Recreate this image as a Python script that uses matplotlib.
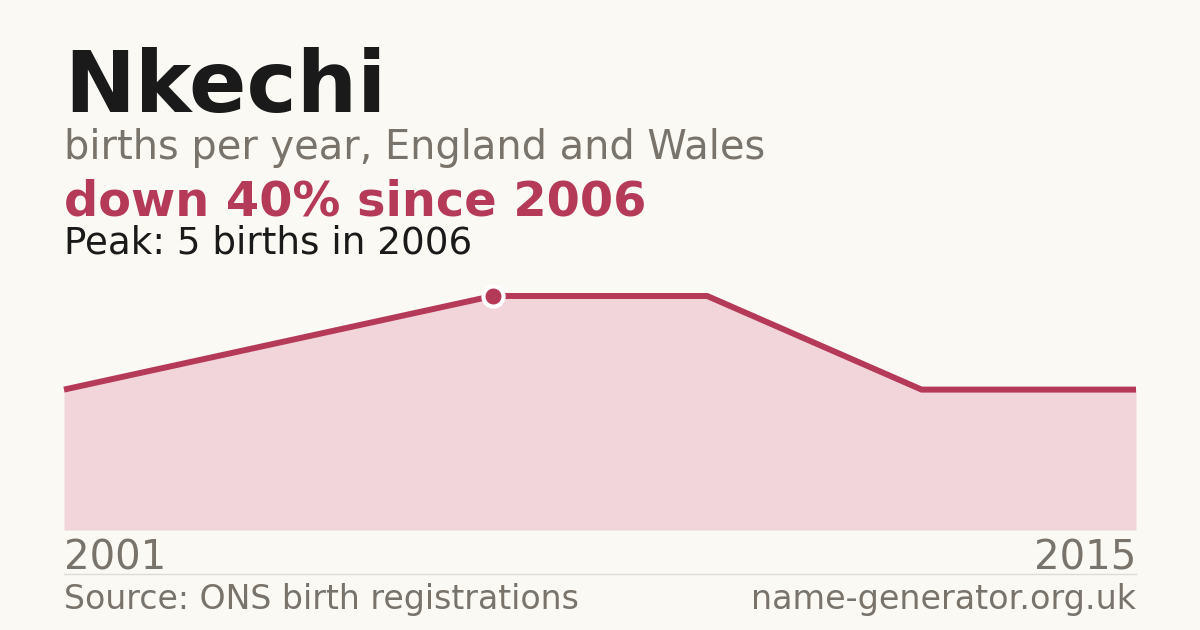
import matplotlib
matplotlib.use("Agg")
import matplotlib.pyplot as plt
import numpy as np

# data
years = [2001, 2003, 2006, 2009, 2012, 2015]
births = [3, 4, 5, 5, 3, 3]
title = "Nkechi"
subtitle = "births per year, England and Wales"
headline = "down 40% since 2006"
peak_text = "Peak: 5 births in 2006"
source = "Source: ONS birth registrations"
site = "name-generator.org.uk"
peak_idx = 2

BG = "#faf9f4"
RED = "#b53a57"
FILL = "#f2d5da"
GRAY = "#78736b"
DARK = "#1a1a1a"

plt.rcParams['font.family'] = ['DejaVu Sans']
W, H = 1200, 630
fig = plt.figure(figsize=(W / 100, H / 100), dpi=100, facecolor=BG)

def fy(py):
    return 1 - py / H

def fx(px):
    return px / W

fig.text(fx(64), fy(112), title, fontsize=61, fontweight='bold', color=DARK, va='baseline', ha='left')
fig.text(fx(64), fy(159), subtitle, fontsize=28.7, color=GRAY, va='baseline', ha='left')
fig.text(fx(64), fy(215), headline, fontsize=34.5, fontweight='bold', color=RED, va='baseline', ha='left')
fig.text(fx(64), fy(253), peak_text, fontsize=26.8, color=DARK, va='baseline', ha='left')

left, right, bottom, top = 64, 1136, 530, 280
ax = fig.add_axes([fx(left), fy(bottom), (right - left) / W, (bottom - top) / H])
ax.set_facecolor('none')
x = np.arange(len(years))
ax.fill_between(x, births, 0, color=FILL, linewidth=0)
ax.plot(x, births, color=RED, linewidth=4.3, solid_capstyle='butt', solid_joinstyle='miter', clip_on=False)
ax.plot([x[peak_idx]], [births[peak_idx]], 'o', markersize=14.5, markerfacecolor=RED,
        markeredgecolor='white', markeredgewidth=3, clip_on=False, zorder=5)
ax.set_xlim(0, len(years) - 1)
ax.set_ylim(0, (bottom - top) / 46.8)
ax.axis('off')

fig.text(fx(64), fy(570), str(years[0]), fontsize=29, color=GRAY, va='baseline', ha='left')
fig.text(fx(1136), fy(570), str(years[-1]), fontsize=29, color=GRAY, va='baseline', ha='right')

fig.add_artist(plt.Line2D([fx(64), fx(1136)], [fy(574), fy(574)], color="#dedbd4", linewidth=1))

fig.text(fx(64), fy(609), source, fontsize=23.9, color=GRAY, va='baseline', ha='left')
fig.text(fx(1136), fy(609), site, fontsize=24, color=GRAY, va='baseline', ha='right')

fig.savefig("out.png", dpi=100, facecolor=BG)
